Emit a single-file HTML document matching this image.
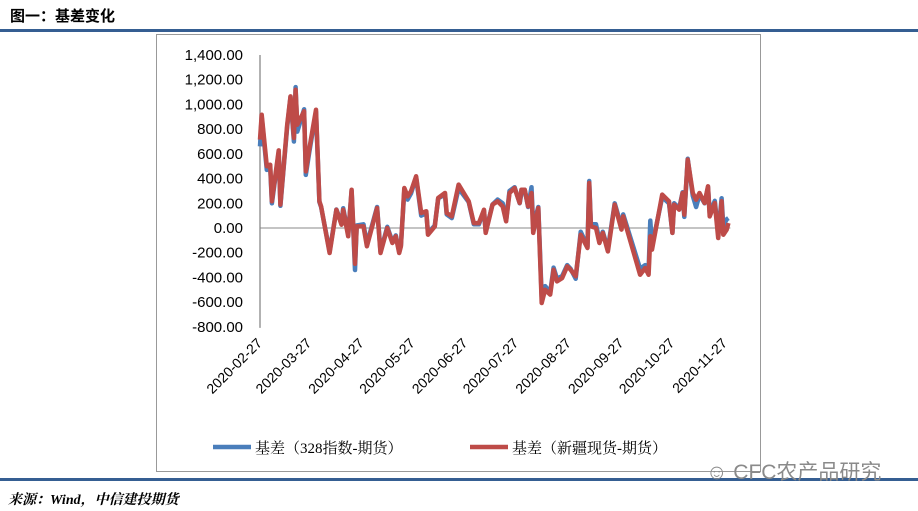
<!DOCTYPE html>
<html><head><meta charset="utf-8"><style>
body{margin:0;width:918px;height:511px;background:#fff;position:relative;overflow:hidden;font-family:"Liberation Sans","Noto Sans CJK SC",sans-serif}
.abs{position:absolute}
</style></head><body>
<div class="abs" style="left:10px;top:5px;font-size:15px;font-weight:bold;font-family:'Liberation Sans','Noto Sans CJK SC',sans-serif">图一：基差变化</div>
<div class="abs" style="left:0;top:29px;width:918px;height:3px;background:#355e92"></div>
<div class="abs" style="left:156px;top:34px;width:605px;height:438px;border:1px solid #999;box-sizing:border-box"></div>
<svg class="abs" style="left:0;top:0" width="918" height="511">
<g id="axes"></g><g id="series"></g><g id="legend"></g>
</svg>
<div class="abs" style="left:0;top:478px;width:918px;height:3px;background:#355e92"></div>
<div class="abs" style="left:706px;top:456px;font-size:21px;color:#8a8a8a;font-family:'Liberation Sans','Noto Sans CJK SC',sans-serif">☺ CFC农产品研究</div>
<div class="abs" style="left:8px;top:489px;font-size:14px;font-weight:bold;font-style:italic;font-family:'Liberation Serif','Noto Serif CJK SC',serif">来源：Wind，中信建投期货</div>
<script>
const tickValues=[1400,1200,1000,800,600,400,200,0,-200,-400,-600,-800];
const tickLabels=["1,400.00","1,200.00","1,000.00","800.00","600.00","400.00","200.00","0.00","-200.00","-400.00","-600.00","-800.00"];
const dateLabels=["2020-02-27","2020-03-27","2020-04-27","2020-05-27","2020-06-27","2020-07-27","2020-08-27","2020-09-27","2020-10-27","2020-11-27"];
const dateDays=[0,29,60,90,121,151,182,213,243,274];
const days=[0,1,4,6,7,11,12,16,18,20,21,22,26,27,29,33,35,36,41,45,48,49,52,54,56,57,61,63,69,71,75,78,80,82,83,85,87,89,92,95,98,99,103,105,109,110,113,117,123,126,129,132,133,137,140,143,145,147,150,153,154,156,158,160,161,164,166,168,171,173,175,178,181,183,186,189,193,194,195,198,200,202,205,209,213,214,224,227,229,230,231,237,241,243,244,247,249,250,252,255,257,259,262,264,265,268,270,272,273,275,276];
const redValues=[715,917,499,512,216,628,189,836,1065,728,1119,836,944,458,634,957,216,175,-202,148,27,148,-67,310,-290,13,13,-148,162,-202,0,-121,-67,-202,-148,324,256,297,418,121,135,-54,13,243,283,121,94,351,216,40,40,148,-40,189,216,175,54,283,324,202,310,310,175,283,-40,162,-607,-499,-539,-337,-432,-405,-310,-337,-391,-54,-162,364,13,0,-121,-40,-189,189,-13,94,-378,-324,-378,-67,-175,270,216,-40,189,148,283,108,553,283,229,283,202,337,94,202,-81,216,-54,-13,40];
const blueValues=[660,900,470,490,200,610,180,820,1060,700,1140,780,960,430,610,940,210,170,-190,150,40,160,-50,300,-340,20,30,-130,170,-190,10,-110,-60,-190,-140,300,230,280,410,100,120,-40,20,240,270,110,80,320,210,30,30,140,-30,190,230,200,60,300,330,200,280,310,170,330,20,170,-560,-470,-520,-320,-410,-390,-300,-330,-410,-30,-150,380,30,30,-100,-30,-170,200,10,110,-330,-300,-340,60,-150,250,200,-40,200,160,290,90,560,260,170,270,200,330,120,220,-50,240,20,70,80];
const NS="http://www.w3.org/2000/svg";
const X0=260,PX_PER_DAY=465/274,Y0=228,PX_PER_UNIT=0.1236;
function xs(d){return X0+d*PX_PER_DAY}
function ys(v){return Y0-v*PX_PER_UNIT}
function mk(tag,attrs,parent){const e=document.createElementNS(NS,tag);for(const k in attrs)e.setAttribute(k,attrs[k]);parent.appendChild(e);return e}
const axes=document.getElementById('axes');
const yAxis=mk('line',{x1:X0,y1:ys(1400),x2:X0,y2:ys(-800)+1,stroke:'#999','stroke-width':1.5},axes);


const zero=mk('line',{x1:X0,y1:ys(0),x2:xs(276)+2,y2:ys(0),stroke:'#888','stroke-width':1},axes);


tickValues.forEach((v,i)=>{
 const t=mk('text',{x:243,y:ys(v)+5,'text-anchor':'end','font-size':15,fill:'#000','font-family':'Liberation Sans, sans-serif'},axes);
 t.textContent=tickLabels[i];
 
 
});
dateLabels.forEach((s,i)=>{
 const x=xs(dateDays[i])+3,y=344;
 const t=mk('text',{x:x,y:y,'text-anchor':'end','font-size':14,fill:'#000','font-family':'Liberation Sans, sans-serif',transform:`rotate(-45 ${x} ${y})`},axes);
 t.textContent=s;
 
 
});
const ser=document.getElementById('series');
function path(vals){return days.map((d,i)=>(i?'L':'M')+xs(d).toFixed(1)+' '+ys(vals[i]).toFixed(1)).join(' ')}
const pb=mk('path',{d:path(blueValues),fill:'none',stroke:'#4a7ebb','stroke-width':4.5,'stroke-linejoin':'round'},ser);


const pr=mk('path',{d:path(redValues),fill:'none',stroke:'#be4b48','stroke-width':4.5,'stroke-linejoin':'round'},ser);


const lg=document.getElementById('legend');
[[213,'#4a7ebb','基差（328指数-期货）','legend-entry-328'],[470,'#be4b48','基差（新疆现货-期货）','legend-entry-xinjiang']].forEach(a=>{
 const l=mk('line',{x1:a[0],y1:447,x2:a[0]+38,y2:447,stroke:a[1],'stroke-width':4.5},lg);
 
 
 const t=mk('text',{x:a[0]+42,y:453,'font-size':15,fill:'#000','font-family':'Liberation Serif, Noto Serif CJK SC, serif'},lg);
 t.textContent=a[2];
 
 
});
</script>
</body></html>
